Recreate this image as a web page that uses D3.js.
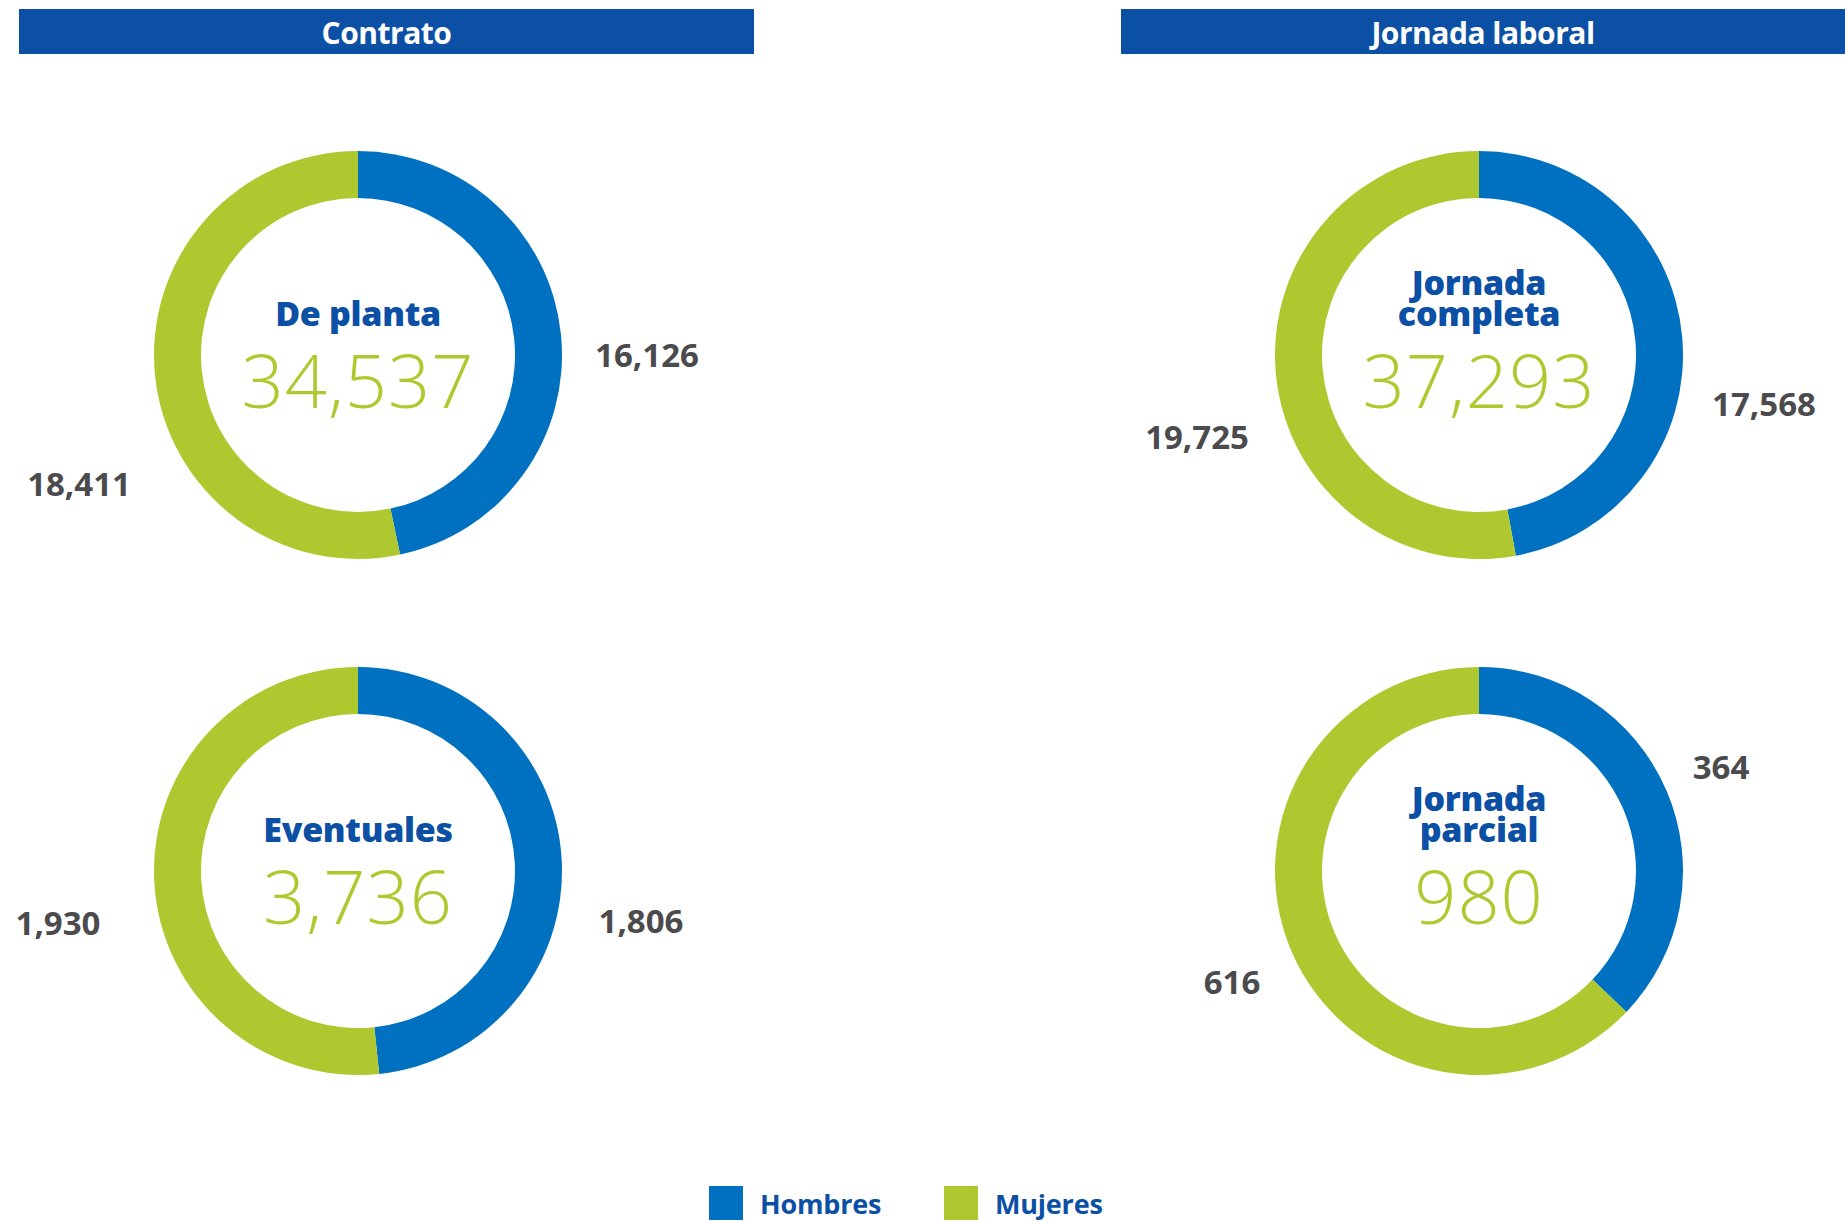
<!DOCTYPE html>
<html>
<head>
<meta charset="utf-8">
<script src="https://cdn.jsdelivr.net/npm/d3@7"></script>
<style>
  html, body { margin: 0; padding: 0; background: #ffffff; }
  svg { display: block; }
</style>
</head>
<body>
<svg id="chart" width="1845" height="1221"></svg>
<script>
// Section headers
const sections = ["Contrato", "Jornada laboral"];

// Series (legend order)
const seriesNames = ["Hombres", "Mujeres"];
const seriesColors = ["#0070c0", "#b0c82f"];

// One donut per category
const categories = [
  ["De planta"],
  ["Eventuales"],
  ["Jornada", "completa"],
  ["Jornada", "parcial"]
];
const totals = [34537, 3736, 37293, 980];
const hombres = [16126, 1806, 17568, 364];
const mujeres = [18411, 1930, 19725, 616];

// Layout
const W = 1845, H = 1221;
const svg = d3.select("#chart");
const fmt = d3.format(",");

const headerBars = [
  { x0: 19, x1: 754 },
  { x0: 1121, x1: 1845 }
];
const headerY = 9, headerH = 45;

const centers = [
  { x: 358, y: 355 },
  { x: 358, y: 871 },
  { x: 1479, y: 355 },
  { x: 1479, y: 871 }
];
const outerR = 204, innerR = 157;

// Offsets of the value labels from each donut centre: [hombres, mujeres]
const labelOffsets = [
  [{ dx: 289, dy: -1 },  { dx: -279, dy: 128 }],
  [{ dx: 283, dy: 49 },  { dx: -300, dy: 51 }],
  [{ dx: 285, dy: 48 },  { dx: -282, dy: 81 }],
  [{ dx: 242, dy: -105 }, { dx: -247, dy: 110 }]
];

// Header bars
headerBars.forEach((b, i) => {
  svg.append("rect")
    .attr("x", b.x0).attr("y", headerY)
    .attr("width", b.x1 - b.x0).attr("height", headerH)
    .attr("fill", "#0b50a4");
  svg.append("text")
    .attr("x", (b.x0 + b.x1) / 2).attr("y", headerY + 35)
    .attr("text-anchor", "middle")
    .attr("font-family", "'Open Sans', sans-serif")
    .attr("font-weight", 700)
    .attr("font-size", 30)
    .attr("letter-spacing", -0.5)
    .attr("fill", "#ffffff")
    .text(sections[i]);
});

const color = d3.scaleOrdinal().domain(seriesNames).range(seriesColors);
const pie = d3.pie().sort(null).value(d => d.value);
const arc = d3.arc().innerRadius(innerR).outerRadius(outerR);

categories.forEach((cat, i) => {
  const c = centers[i];
  const g = svg.append("g").attr("transform", `translate(${c.x},${c.y})`);
  const data = [
    { key: seriesNames[0], value: hombres[i] },
    { key: seriesNames[1], value: mujeres[i] }
  ];
  const arcs = pie(data);

  g.selectAll("path.slice")
    .data(arcs)
    .join("path")
    .attr("class", "slice")
    .attr("d", arc)
    .attr("fill", d => color(d.data.key));

  // Category title (one or two lines)
  const lineH = 31;
  const lastBaseline = -29;
  cat.forEach((line, j) => {
    g.append("text")
      .attr("x", 0)
      .attr("y", lastBaseline - (cat.length - 1 - j) * lineH)
      .attr("text-anchor", "middle")
      .attr("font-family", "'Open Sans', sans-serif")
      .attr("font-weight", 800)
      .attr("font-size", 34)
      .attr("letter-spacing", -0.3)
      .attr("fill", "#0b50a4")
      .text(line);
  });

  // Total in the middle
  g.append("text")
    .attr("x", 0).attr("y", 53)
    .attr("text-anchor", "middle")
    .attr("font-family", "'Open Sans', sans-serif")
    .attr("font-weight", 300)
    .attr("font-size", 74)
    .attr("letter-spacing", 1)
    .attr("fill", "#b0c82f")
    .text(fmt(totals[i]));

  // Value labels beside the ring
  arcs.forEach((a, k) => {
    const off = labelOffsets[i][k];
    g.append("text")
      .attr("x", off.dx).attr("y", off.dy)
      .attr("text-anchor", "middle")
      .attr("dominant-baseline", "central")
      .attr("font-family", "'Open Sans', sans-serif")
      .attr("font-weight", 700)
      .attr("font-size", 33)
      .attr("fill", "#4b4b4d")
      .text(fmt(a.data.value));
  });
});

// Legend
const legend = [
  { x: 709, name: seriesNames[0] },
  { x: 944, name: seriesNames[1] }
];
legend.forEach(l => {
  svg.append("rect")
    .attr("x", l.x).attr("y", 1186)
    .attr("width", 34).attr("height", 34)
    .attr("fill", color(l.name));
  svg.append("text")
    .attr("x", l.x + 51).attr("y", 1214)
    .attr("font-family", "'Open Sans', sans-serif")
    .attr("font-weight", 700)
    .attr("font-size", 27)
    .attr("letter-spacing", -0.2)
    .attr("fill", "#0b50a4")
    .text(l.name);
});
</script>
</body>
</html>
